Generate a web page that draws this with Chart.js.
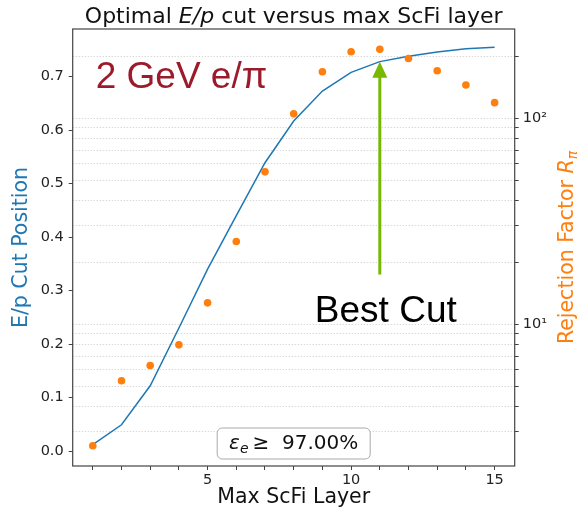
<!DOCTYPE html>
<html>
<head>
<meta charset="utf-8">
<script src="https://cdn.jsdelivr.net/npm/chart.js@4.4.1/dist/chart.umd.min.js"></script>
<style>
  html, body { margin: 0; padding: 0; background: #fff; }
  #wrap { width: 578px; height: 511px; }
</style>
</head>
<body>
<div id="wrap"><canvas id="chart" width="578" height="511"></canvas></div>
<script>
// values
const layers = [1, 2, 3, 4, 5, 6, 7, 8, 9, 10, 11, 12, 13, 14, 15];
const epCut = [0.012, 0.049, 0.122, 0.230, 0.340, 0.440, 0.539, 0.617, 0.673, 0.708, 0.728, 0.738, 0.746, 0.752, 0.755];
const rejection = [2.57, 5.32, 6.30, 7.94, 12.7, 25.2, 54.9, 105, 168, 210, 216, 195, 170, 145, 119];

const xTicks = [1, 2, 3, 4, 5, 6, 7, 8, 9, 10, 11, 12, 13, 14, 15];
const leftTicks = [0, 0.1, 0.2, 0.3, 0.4, 0.5, 0.6, 0.7];
const rightTicks = [3, 4, 5, 6, 7, 8, 9, 10, 20, 30, 40, 50, 60, 70, 80, 90, 100, 200];
const rightLabels = { 10: '10\u00b9', 100: '10\u00b2' };

const bestLayer = 11;
const arrowFrom = 0.33;

const BLUE = '#1f77b4';
const ORANGE = '#ff7f0e';
const GREEN = '#76b900';
const DARKRED = '#9b1b2b';
const FONT = 'DejaVu Sans';
const SANS = 'Liberation Sans';

// draw a list of text runs [text, font, dy] one after another
function drawRuns(ctx, runs, x, y, align) {
    let total = 0;
    runs.forEach(r => { ctx.font = r[1]; total += ctx.measureText(r[0]).width; });
    let cx = align === 'center' ? x - total / 2 : x;
    runs.forEach(r => {
        ctx.font = r[1];
        ctx.fillText(r[0], cx, y + (r[2] || 0));
        cx += ctx.measureText(r[0]).width;
    });
    return total;
}

const overlay = {
    id: 'overlay',
    afterDraw(chart) {
        const { ctx, chartArea: a, scales } = chart;
        ctx.save();
        ctx.textAlign = 'left';
        ctx.textBaseline = 'alphabetic';

        // axes frame
        ctx.strokeStyle = '#444';
        ctx.lineWidth = 1.2;
        ctx.strokeRect(a.left, a.top, a.right - a.left, a.bottom - a.top);

        // title
        ctx.fillStyle = '#111';
        drawRuns(ctx, [
            ['Optimal ', '22px "' + FONT + '"'],
            ['E/p', 'italic 22px "' + FONT + '"'],
            [' cut versus max ScFi layer', '22px "' + FONT + '"']
        ], (a.left + a.right) / 2, a.top - 6, 'center');

        // right axis label
        ctx.save();
        ctx.translate(565, (a.top + a.bottom) / 2);
        ctx.rotate(-Math.PI / 2);
        ctx.fillStyle = ORANGE;
        drawRuns(ctx, [
            ['Rejection Factor ', '20.5px "' + FONT + '"'],
            ['R', 'italic 20.5px "' + FONT + '"'],
            ['\u03c0', 'italic 14px "' + FONT + '"', 4]
        ], 0, 8, 'center');
        ctx.restore();

        // energy label
        ctx.fillStyle = DARKRED;
        ctx.font = '37px "' + SANS + '"';
        ctx.fillText('2 GeV e/\u03c0', a.left + 23, a.top + 59);

        // best cut arrow
        const ax = scales.x.getPixelForValue(bestLayer);
        const tipY = scales.y.getPixelForValue(epCut[layers.indexOf(bestLayer)]);
        const baseY = scales.y.getPixelForValue(arrowFrom);
        ctx.strokeStyle = GREEN;
        ctx.lineWidth = 3;
        ctx.beginPath();
        ctx.moveTo(ax, baseY);
        ctx.lineTo(ax, tipY + 14);
        ctx.stroke();
        ctx.fillStyle = GREEN;
        ctx.beginPath();
        ctx.moveTo(ax, tipY);
        ctx.lineTo(ax - 7.5, tipY + 16);
        ctx.lineTo(ax + 7.5, tipY + 16);
        ctx.closePath();
        ctx.fill();

        ctx.fillStyle = '#000';
        ctx.font = '37px "' + SANS + '"';
        ctx.textAlign = 'center';
        ctx.fillText('Best Cut', ax + 6, baseY + 47);
        ctx.textAlign = 'left';

        // efficiency box
        const bw = 153, bh = 31;
        const bx = (a.left + a.right) / 2 - bw / 2;
        const by = a.bottom - 7 - bh;
        ctx.beginPath();
        ctx.roundRect(bx, by, bw, bh, 5);
        ctx.fillStyle = 'rgba(255,255,255,0.85)';
        ctx.fill();
        ctx.strokeStyle = '#aaa';
        ctx.lineWidth = 1;
        ctx.stroke();
        ctx.fillStyle = '#111';
        drawRuns(ctx, [
            ['\u03b5', 'italic 20px "' + FONT + '"'],
            ['e', 'italic 14px "' + FONT + '"', 4],
            ['\u2009\u2265  97.00%', '20px "' + FONT + '"']
        ], bx + bw / 2, by + 21, 'center');

        ctx.restore();
    }
};

new Chart(document.getElementById('chart'), {
    type: 'line',
    data: {
        datasets: [
            {
                label: 'Rejection Factor',
                data: layers.map((l, i) => ({ x: l, y: rejection[i] })),
                yAxisID: 'y1',
                showLine: false,
                pointRadius: 3.8,
                pointBorderWidth: 0,
                pointBackgroundColor: ORANGE,
                order: 0
            },
            {
                label: 'E/p Cut Position',
                data: layers.map((l, i) => ({ x: l, y: epCut[i] })),
                yAxisID: 'y',
                borderColor: BLUE,
                borderWidth: 1.5,
                pointRadius: 0,
                tension: 0,
                order: 1
            }
        ]
    },
    options: {
        responsive: false,
        animation: false,
        devicePixelRatio: 1,
        layout: { padding: { top: 29, left: 0, right: 0, bottom: 0 } },
        plugins: {
            legend: { display: false },
            tooltip: { enabled: false },
            title: { display: false }
        },
        scales: {
            x: {
                type: 'linear',
                min: 0.3,
                max: 15.7,
                afterBuildTicks: s => { s.ticks = xTicks.map(v => ({ value: v })); },
                afterFit: s => { s.height = 45; },
                grid: { drawOnChartArea: false, tickLength: 4, tickColor: '#444' },
                border: { display: false },
                ticks: {
                    autoSkip: false, maxRotation: 0, padding: 2, color: '#222',
                    font: { family: FONT, size: 14.5 },
                    callback: v => (v % 5 === 0 ? String(v) : '')
                },
                title: {
                    display: true, text: 'Max ScFi Layer', color: '#111',
                    font: { family: FONT, size: 20.5 },
                    padding: { top: 0, bottom: 1 }
                }
            },
            y: {
                type: 'linear',
                position: 'left',
                min: -0.028,
                max: 0.789,
                afterBuildTicks: s => { s.ticks = leftTicks.map(v => ({ value: v })); },
                afterFit: s => { s.width = 72.7; },
                grid: { drawOnChartArea: false, tickLength: 4, tickColor: '#444' },
                border: { display: false },
                ticks: {
                    autoSkip: false, padding: 5, color: '#222',
                    font: { family: FONT, size: 14.5 },
                    callback: v => v.toFixed(1)
                },
                title: {
                    display: true, text: 'E/p Cut Position', color: BLUE,
                    font: { family: FONT, size: 20.5 },
                    padding: { top: 9, bottom: 0 }
                }
            },
            y1: {
                type: 'logarithmic',
                position: 'right',
                min: 2.05,
                max: 271,
                afterBuildTicks: s => { s.ticks = rightTicks.map(v => ({ value: v })); },
                afterFit: s => { s.width = 63.3; },
                grid: {
                    drawOnChartArea: true, color: '#c8c8c8', lineWidth: 0.8,
                    tickLength: 4, tickColor: '#444', tickWidth: 1
                },
                border: { display: false, dash: [1.2, 1.8] },
                ticks: {
                    autoSkip: false, padding: 4, color: '#222',
                    font: { family: FONT, size: 14.5 },
                    callback: v => rightLabels[v] || ''
                }
            }
        }
    },
    plugins: [overlay]
});
</script>
</body>
</html>
